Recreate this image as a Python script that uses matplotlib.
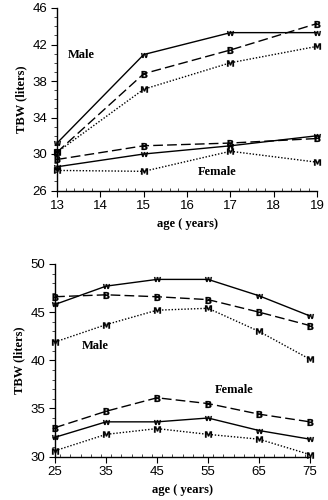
import matplotlib
matplotlib.use('Agg')
import numpy as np
from matplotlib import pyplot as plt
from matplotlib.ticker import MultipleLocator

# Adolescents
edad_joven = [13, 15, 17, 19]
hombre_W_joven = [31.2, 40.9, 43.3, 43.3]
hombre_B_joven = [30.2, 38.8, 41.4, 44.3]
hombre_M_joven = [30.2, 37.1, 40.0, 41.8]
mujer_B_joven = [29.4, 30.9, 31.2, 31.7]
mujer_W_joven = [28.6, 30.0, 30.9, 32.0]
mujer_M_joven = [28.2, 28.1, 30.3, 29.1]

# Adults
edad_adulto = [25, 35, 45, 55, 65, 75]
hombre_W_adulto = [45.8, 47.7, 48.4, 48.4, 46.7, 44.6]
hombre_B_adulto = [46.6, 46.8, 46.6, 46.3, 45.0, 43.6]
hombre_M_adulto = [41.9, 43.7, 45.2, 45.4, 43.0, 40.1]
mujer_B_adulto = [33.0, 34.7, 36.1, 35.5, 34.4, 33.6]
mujer_W_adulto = [32.0, 33.6, 33.6, 34.0, 32.7, 31.8]
mujer_M_adulto = [30.6, 32.3, 32.9, 32.3, 31.8, 30.2]

serif = 'Liberation Serif'
sans = 'Liberation Sans'

estilos = {'W': '-', 'B': (0, (7, 3)), 'M': (0, (1, 1.3))}


def dibuja(ax, x, serie, letra):
    ax.plot(x, serie, color='black', lw=1.0, linestyle=estilos[letra],
            marker='$\\mathbf{%s}$' % letra, markersize=5, markeredgewidth=0.2,
            clip_on=False)


def formato(ax, xticks, xmin, yticks, ymin):
    ax.set_xlim(xticks[0], xticks[-1])
    ax.set_ylim(yticks[0], yticks[-1])
    ax.set_xticks(xticks)
    ax.set_yticks(yticks)
    ax.xaxis.set_minor_locator(MultipleLocator(xmin))
    ax.yaxis.set_minor_locator(MultipleLocator(ymin))
    for lado in ['top', 'right']:
        ax.spines[lado].set_visible(False)
    for lado in ['left', 'bottom']:
        ax.spines[lado].set_linewidth(1.0)
    ax.tick_params(which='major', length=4, width=0.8, labelsize=9.5, pad=3,
                   labelfontfamily=sans)
    ax.tick_params(axis='x', which='minor', direction='in', length=2, width=0.5)
    ax.tick_params(axis='y', which='minor', direction='out', length=2, width=0.5)
    ax.set_xlabel('age ( years)', fontfamily=serif, fontweight='bold', fontsize=9, labelpad=4)
    ax.set_ylabel('TBW (liters)', fontfamily=serif, fontweight='bold', fontsize=9, labelpad=4)


def etiqueta(ax, x, y, texto):
    ax.text(x, y, texto, fontfamily=serif, fontweight='bold', fontsize=9,
            ha='center', va='center')


fig = plt.figure(figsize=(3.28, 5.0), dpi=100)
ax1 = fig.add_axes([0.174, 0.619, 0.793, 0.365])
ax2 = fig.add_axes([0.168, 0.087, 0.777, 0.385])

dibuja(ax1, edad_joven, hombre_W_joven, 'W')
dibuja(ax1, edad_joven, hombre_B_joven, 'B')
dibuja(ax1, edad_joven, hombre_M_joven, 'M')
dibuja(ax1, edad_joven, mujer_B_joven, 'B')
dibuja(ax1, edad_joven, mujer_W_joven, 'W')
dibuja(ax1, edad_joven, mujer_M_joven, 'M')
formato(ax1, np.arange(13, 20, 1), 0.2, np.arange(26, 47, 4), 1)
etiqueta(ax1, 13.55, 40.8, 'Male')
etiqueta(ax1, 16.7, 28.0, 'Female')

dibuja(ax2, edad_adulto, hombre_W_adulto, 'W')
dibuja(ax2, edad_adulto, hombre_B_adulto, 'B')
dibuja(ax2, edad_adulto, hombre_M_adulto, 'M')
dibuja(ax2, edad_adulto, mujer_B_adulto, 'B')
dibuja(ax2, edad_adulto, mujer_W_adulto, 'W')
dibuja(ax2, edad_adulto, mujer_M_adulto, 'M')
formato(ax2, np.arange(25, 76, 10), 2, np.arange(30, 51, 5), 1)
etiqueta(ax2, 32.8, 41.5, 'Male')
etiqueta(ax2, 60.2, 36.9, 'Female')

fig.savefig('out.png', dpi=100)
